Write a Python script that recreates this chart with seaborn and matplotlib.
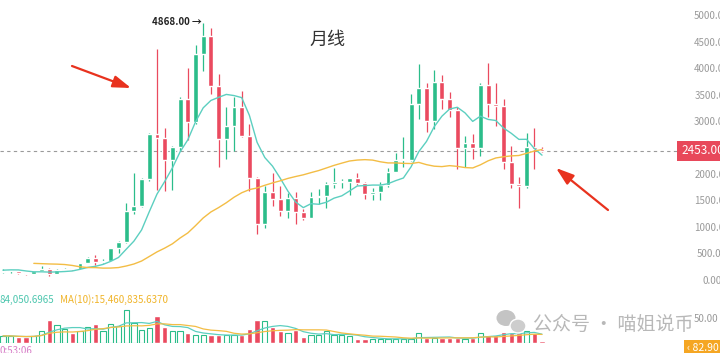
import numpy as np
import pandas as pd
import matplotlib
matplotlib.use("Agg")
import matplotlib.pyplot as plt
from matplotlib.patches import Ellipse
import seaborn as sns

sns.set_theme(style="white")
plt.rcParams['font.family'] = ['Noto Sans CJK SC', 'DejaVu Sans']
plt.rcParams['axes.unicode_minus'] = False

# monthly candles, 2019-09 .. 2025-07
months = pd.period_range('2019-09', '2025-07', freq='M')
opens = [172, 180, 182, 152,
         129, 180, 218, 133, 206, 231, 226, 346, 435, 360, 386, 616,
         737, 1312, 1417, 1918, 2772, 2707, 2275, 2536, 3433, 3000, 4288, 4631,
         3683, 2688, 2920, 3282, 2727, 1942, 1067, 1680, 1554, 1328, 1572, 1295,
         1196, 1585, 1605, 1822, 1870, 1874, 1934, 1856, 1645, 1671, 1815, 2052,
         2282, 2283, 3340, 3645, 3015, 3760, 3440, 3232, 2513, 2602, 2518, 3703,
         3332, 3300, 2237, 1822, 1793, 2528, 2486]
highs = [223, 197, 192, 153,
         185, 288, 253, 227, 247, 253, 348, 445, 488, 418, 623, 756,
         1476, 2041, 1943, 2797, 4380, 2892, 2551, 3470, 4027, 4460, 4868, 4778,
         3900, 3282, 3480, 3580, 2960, 1970, 1786, 2030, 1790, 1664, 1680, 1350,
         1680, 1740, 1860, 2140, 1930, 1930, 2030, 1870, 1750, 1865, 2130, 2415,
         2720, 3520, 4093, 3730, 3975, 3890, 3560, 3280, 2730, 2770, 3730, 4107,
         3745, 3435, 2550, 1955, 2790, 2880, 2520]
lows = [152, 155, 138, 117,
        126, 180, 90, 130, 180, 216, 224, 345, 308, 335, 373, 535,
        714, 1270, 1400, 1890, 1719, 1700, 1718, 2450, 2652, 2970, 3960, 3524,
        2159, 2300, 2450, 2710, 1700, 880, 1000, 1420, 1220, 1190, 1073, 1160,
        1190, 1460, 1370, 1760, 1760, 1620, 1820, 1550, 1530, 1520, 1775, 2050,
        2160, 2265, 3060, 2810, 2865, 3240, 3085, 2110, 2150, 2310, 2356, 3100,
        2920, 2120, 1755, 1385, 1750, 2110, 2440]
closes = [180, 182, 152, 129,
          180, 218, 133, 206, 231, 226, 346, 435, 360, 386, 616, 737,
          1312, 1417, 1918, 2772, 2707, 2275, 2536, 3433, 3000, 4288, 4631, 3683,
          2688, 2920, 3282, 2727, 1942, 1067, 1680, 1554, 1328, 1572, 1295, 1196,
          1585, 1605, 1822, 1870, 1874, 1934, 1856, 1645, 1671, 1815, 2052, 2282,
          2283, 3340, 3645, 3015, 3760, 3440, 3232, 2513, 2602, 2518, 3703, 3332,
          3300, 2237, 1822, 1793, 2528, 2486, 2453]
# closes before the visible window (2017-08 .. 2019-08), only feed the MAs
pre_closes = [388, 302, 305, 447, 756, 1118, 855, 397, 670, 578, 455, 434, 282,
              232, 198, 114, 133, 107, 136, 142, 160, 268, 290, 218, 172]
# volume, millions
volumes = [17, 17, 14, 14, 17, 29, 55, 43, 34, 24, 29, 38, 46, 29, 46, 41, 79, 48,
           31, 36, 65, 38, 29, 29, 24, 19, 19, 19, 19, 19, 19, 19, 34, 55, 53, 38,
           29, 24, 31, 14, 19, 19, 29, 19, 19, 17, 10, 10, 10, 10, 10, 10, 10, 10,
           24, 12, 12, 12, 12, 12, 10, 12, 24, 19, 19, 26, 24, 24, 29, 24, 5]
price_ticks = [5000, 4500, 4000, 3500, 3000, 2000, 1500, 1000, 500, 0]
last_price = 2453
peak_price = 4868

green = '#2bbd8a'
red = '#ea4a5f'
teal = '#5ccfc0'
amber = '#f3bd45'

n = len(closes)
idx = np.arange(n)
df = pd.DataFrame({'i': idx, 'open': opens, 'high': highs, 'low': lows,
                   'close': closes, 'vol': volumes})
full = pd.Series(pre_closes + closes, dtype=float)
df['ma7'] = full.rolling(7).mean().to_numpy()[len(pre_closes):]
df['ma30'] = full.rolling(30).mean().to_numpy()[len(pre_closes):]
df['vma5'] = df['vol'].rolling(5, min_periods=1).mean()
df['vma10'] = df['vol'].rolling(10, min_periods=1).mean()
up = df['close'] >= df['open']
cols = np.where(up, green, red)

W, H = 720, 353
def box(x0, y0, x1, y1):
    return [x0 / W, 1 - y1 / H, (x1 - x0) / W, (y1 - y0) / H]

fig = plt.figure(figsize=(7.2, 3.53), dpi=100)
ax = fig.add_axes(box(0, 0, 680, 290))
axv = fig.add_axes(box(0, 298, 680, 343))
step = 7.7
for a in (ax, axv):
    a.set_xlim(-3 / step, 677 / step)
    a.axis('off')
ax.set_ylim(-170, 5302)
axv.set_ylim(0, 108)

# candles
ax.vlines(df['i'], df['low'], df['high'], colors=cols, lw=0.9, zorder=2)
body_lo = np.minimum(df['open'], df['close'])
body_h = np.maximum(np.abs(df['close'] - df['open']), 18)
ax.bar(df['i'], body_h, bottom=body_lo, width=0.64, color=cols, zorder=3)

sns.lineplot(data=df, x='i', y='ma7', ax=ax, color=teal, lw=1, zorder=4)
sns.lineplot(data=df, x='i', y='ma30', ax=ax, color=amber, lw=1, zorder=4)

ax.axhline(last_price, color='#9a9a9a', ls=(0, (3, 3)), lw=0.8, zorder=1)
ax.text(681 / 680, last_price, f'{last_price:.2f}', transform=ax.get_yaxis_transform(),
        ha='left', va='center', color='white', fontsize=8.5, clip_on=False,
        bbox=dict(boxstyle='square,pad=0.3', fc='#e8485a', ec='none'))
for v in price_ticks:
    ax.text(712 / 680, v, f'{v:.2f}', transform=ax.get_yaxis_transform(),
            ha='center', va='center', fontsize=7, color='#9a9a9a', clip_on=False)

peak_i = int(np.argmax(highs))
ax.annotate(f'{peak_price:.2f} →', xy=(peak_i, peak_price), xytext=(-1, 1),
            textcoords='offset points', ha='right', va='center',
            fontsize=7, fontweight='bold', color='#222')

# volume
axv.bar(df['i'][up], df['vol'][up], width=0.7, facecolor='white',
        edgecolor=green, lw=0.8)
axv.bar(df['i'][~up], df['vol'][~up], width=0.7, color=red)
sns.lineplot(data=df, x='i', y='vma5', ax=axv, color=teal, lw=0.9)
sns.lineplot(data=df, x='i', y='vma10', ax=axv, color=amber, lw=0.9)

fig.text(0, 1 - 300 / H, '84,050.6965', color='#4cc6ae', fontsize=7, va='center')
fig.text(60 / W, 1 - 300 / H, 'MA(10):15,460,835.6370', color='#f0b429',
         fontsize=7, va='center')
fig.text(0, 1 - 351 / H, '0:53:06', color='#d880c8', fontsize=7, va='center')
fig.text(694 / W, 1 - 319 / H, '50.00', ha='left', va='center', fontsize=7,
         color='#9a9a9a')
fig.text(687 / W, 1 - 348 / H, '‹ 82.90', color='white', fontsize=7.5, va='center',
         bbox=dict(boxstyle='square,pad=0.3', fc='#f5a623', ec='none'))

fig.text(327 / W, 1 - 40 / H, '月线', fontsize=13, ha='center', va='center',
         color='#333333')

# red arrows
for tail, head in [((72, 66), (131, 88)), ((608, 210), (556, 168))]:
    ax.annotate('', xy=(head[0], H - head[1]), xycoords='figure pixels',
                xytext=(tail[0], H - tail[1]), textcoords='figure pixels',
                arrowprops=dict(arrowstyle='-|>,head_length=0.9,head_width=0.3',
                                color='#e8321e', lw=1.6, shrinkA=0, shrinkB=0))

# watermark
fig.add_artist(Ellipse((506 / W, 1 - 318 / H), 19 / W, 16 / H,
                       transform=fig.transFigure, fc='#c4c4c4', ec='none'))
fig.add_artist(Ellipse((518 / W, 1 - 326 / H), 16 / W, 14 / H,
                       transform=fig.transFigure, fc='#cdcdcd', ec='white', lw=1))
fig.text(533 / W, 1 - 324 / H, '公众号 · 喵姐说币', fontsize=13.7, color='#b8b8b8',
         va='center')

fig.savefig('out.png', dpi=100)
